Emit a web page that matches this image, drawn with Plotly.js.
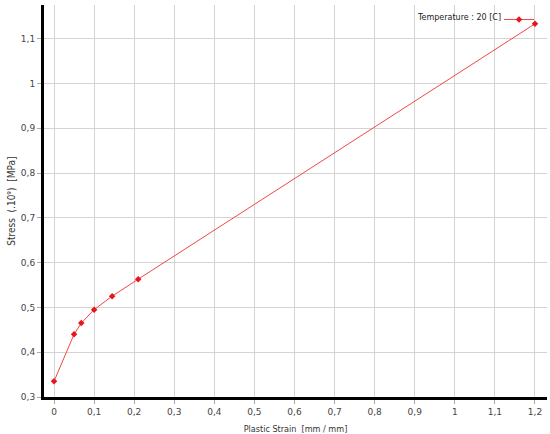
<!DOCTYPE html>
<html>
<head>
<meta charset="utf-8">
<script src="https://cdn.plot.ly/plotly-3.0.1.min.js"></script>
<style>
	html, body { margin: 0; padding: 0; background: #fff; }
	#chart { width: 550px; height: 434px; }
</style>
</head>
<body>
<div id="chart"></div>
<script>
const plastic_strain = [0, 0.05, 0.068, 0.1, 0.145, 0.21, 1.2];
const stress = [0.335, 0.44, 0.465, 0.495, 0.525, 0.563, 1.133];
const series_name = 'Temperature : 20 [C]';
const x_title = 'Plastic Strain  [mm / mm]';
const y_title = 'Stress  (.10⁹)  [MPa]';

const title_font = { family: 'DejaVu Sans Condensed, DejaVu Sans', size: 9, color: '#333' };

const traces = [
	{
		x: plastic_strain,
		y: stress,
		mode: 'lines+markers',
		type: 'scatter',
		name: ' ',
		line: { color: '#f04848', width: 1 },
		marker: { color: '#e8141e', size: 5, symbol: 'diamond' }
	}
];

const layout = {
	width: 550,
	height: 434,
	paper_bgcolor: '#fff',
	plot_bgcolor: '#fff',
	separators: ',.',
	font: { family: 'DejaVu Sans', size: 9, color: '#444' },
	showlegend: true,
	legend: {
		x: 1,
		y: 1,
		xanchor: 'right',
		yanchor: 'top',
		bgcolor: 'rgba(0,0,0,0)',
		font: { size: 8, color: '#222' },
		itemwidth: 30
	},
	annotations: [
		// legend text sits left of the symbol in the original
		{
			text: series_name,
			xref: 'paper',
			yref: 'paper',
			x: 0.913,
			y: 0.968,
			xanchor: 'right',
			yanchor: 'middle',
			showarrow: false,
			font: { size: 8, color: '#222' }
		},
		// y axis title, placed by hand
		{
			text: y_title,
			xref: 'paper',
			yref: 'paper',
			x: -0.066,
			y: 0.5,
			xanchor: 'center',
			yanchor: 'middle',
			textangle: -90,
			showarrow: false,
			font: { family: title_font.family, size: 10, color: '#333' }
		}
	],
	xaxis: {
		title: { text: x_title, font: title_font },
		range: [-0.025, 1.23],
		tick0: 0,
		dtick: 0.1,
		showgrid: true,
		gridcolor: '#d4d4d4',
		zeroline: false,
		showline: true,
		linecolor: '#000',
		linewidth: 3,
		ticks: 'outside',
		ticklen: 4,
		tickcolor: '#aaa',
		fixedrange: true
	},
	yaxis: {
		range: [0.3, 1.175],
		tick0: 0.3,
		dtick: 0.1,
		showgrid: true,
		gridcolor: '#d4d4d4',
		zeroline: false,
		showline: true,
		linecolor: '#000',
		linewidth: 3,
		ticks: 'outside',
		ticklen: 4,
		tickcolor: '#aaa',
		fixedrange: true
	},
	margin: { t: 5, l: 44, r: 3, b: 37 }
};

Plotly.newPlot('chart', traces, layout, { staticPlot: true });
</script>
</body>
</html>
